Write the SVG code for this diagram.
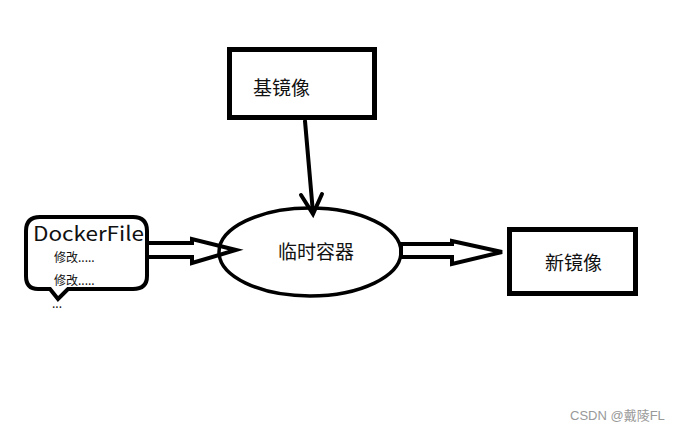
<svg xmlns="http://www.w3.org/2000/svg" width="677" height="432" viewBox="0 0 677 432">
<style>
.box{fill:none;stroke:#000;stroke-width:5}
.ln{fill:none;stroke:#000;stroke-width:4;stroke-linejoin:miter;stroke-linecap:round}
.t{font-family:"Microsoft YaHei","Noto Sans CJK SC",sans-serif;fill:#111}
</style>
<rect width="677" height="432" fill="#fff"/>
<g id="base">
<rect class="box" x="229.5" y="49.5" width="145" height="68"/>
<text class="t" x="253" y="95" font-size="19">基镜像</text>
</g>
<g id="temp">
<ellipse cx="310" cy="252" rx="91" ry="44" fill="none" stroke="#000" stroke-width="3.5"/>
<text class="t" x="316" y="259" font-size="19" text-anchor="middle">临时容器</text>
</g>
<g id="newimg">
<rect class="box" x="509.5" y="229.5" width="126" height="64"/>
<text class="t" x="545" y="270" font-size="19">新镜像</text>
</g>
<g id="dockerfile">
<path class="ln" d="M40,217 H133 Q147,217 147,231 V276 Q147,289 133,289 H68 L58,299 L50,289 H38 Q26,289 26,276 V231 Q26,217 40,217 Z"/>
<text class="t" x="33" y="241" font-size="20" textLength="111" lengthAdjust="spacingAndGlyphs">DockerFile</text>
<text class="t" x="54" y="262" font-size="12">修改.....</text>
<text class="t" x="54" y="285" font-size="12">修改.....</text>
<text class="t" x="52" y="308" font-size="12">...</text>
</g>
<g id="connectors">
<path class="ln" d="M305,121 L313,213"/>
<path class="ln" d="M301,195 L313,214 L322,194"/>
<path class="ln" d="M148,243 H192 V239 L236,250 L192,263 V257 H148"/>
<path class="ln" d="M401,244 H452 V241 L502,252 L452,264 V257 H401 Z"/>
</g>
<text x="570" y="420" font-family="'Liberation Sans','Noto Sans CJK SC',sans-serif" font-size="13" fill="#999">CSDN @戴陵FL</text>
</svg>
